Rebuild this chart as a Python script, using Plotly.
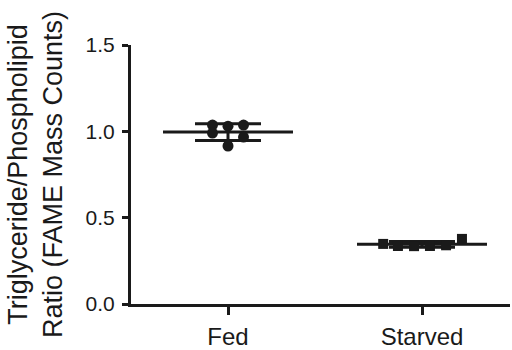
import numpy as np
import plotly.graph_objects as go

categories = ["Fed", "Starved"]
fed_values = [1.036, 0.99, 1.03, 0.915, 1.036, 0.967]
starved_values = [0.348, 0.336, 0.335, 0.336, 0.340, 0.377]
fed_offsets = [-0.08, -0.08, 0.0, 0.0, 0.08, 0.08]
starved_offsets = [-0.2, -0.124, -0.041, 0.041, 0.124, 0.206]
y_ticks = [0.0, 0.5, 1.0, 1.5]
y_tick_labels = ["0.0", "0.5", "1.0", "1.5"]

FONT = "Liberation Sans, Arial, Helvetica, sans-serif"
BLACK = "#1a1a1a"

fig = go.Figure()
groups = [(fed_values, fed_offsets, "circle", 11), (starved_values, starved_offsets, "square", 10)]
for i, (vals, offs, sym, sz) in enumerate(groups):
    mean = float(np.mean(vals))
    sd = float(np.std(vals, ddof=1))
    # mean line
    fig.add_trace(go.Scatter(x=[i - 0.335, i + 0.335], y=[mean, mean], mode="lines",
                             line=dict(color=BLACK, width=3), showlegend=False, hoverinfo="skip"))
    # SD error bar
    fig.add_trace(go.Scatter(x=[i], y=[mean], mode="markers", marker=dict(size=0.1, color=BLACK, opacity=0),
                             error_y=dict(type="data", array=[sd], visible=True, color=BLACK,
                                          thickness=3, width=33),
                             showlegend=False, hoverinfo="skip"))
    # points
    fig.add_trace(go.Scatter(x=[i + o for o in offs], y=vals, mode="markers",
                             marker=dict(symbol=sym, size=sz, color=BLACK, line=dict(width=0)),
                             showlegend=False))

fig.update_layout(
    width=512, height=350,
    margin=dict(l=131, r=2, t=45, b=46),
    paper_bgcolor="white", plot_bgcolor="white",
    font=dict(family=FONT, color=BLACK),
    xaxis=dict(range=[-0.5, -0.5 + 379 / 194], tickmode="array", tickvals=[0, 1], ticktext=categories,
               showline=True, linecolor=BLACK, linewidth=3, ticks="outside", ticklen=8, tickwidth=3,
               tickcolor=BLACK, showgrid=False, zeroline=False, tickfont=dict(size=24, color=BLACK),
               ticklabelstandoff=1, automargin=False),
    yaxis=dict(range=[0, 1.5], tickmode="array", tickvals=y_ticks, ticktext=y_tick_labels,
               showline=True, linecolor=BLACK, linewidth=3, ticks="outside", ticklen=6, tickwidth=3,
               tickcolor=BLACK, showgrid=False, zeroline=False, tickfont=dict(size=21, color=BLACK),
               ticklabelstandoff=3, automargin=False,
               title=dict(text="Triglyceride/Phospholipid<br>Ratio (FAME Mass Counts)",
                          font=dict(size=27, color=BLACK), standoff=16)),
)

fig.write_html("out.html")
